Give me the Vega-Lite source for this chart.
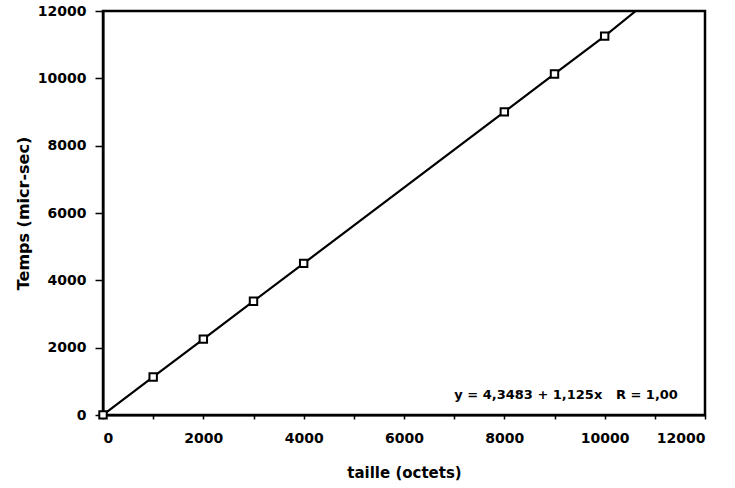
{
  "$schema": "https://vega.github.io/schema/vega-lite/v6.json",
  "width": 602,
  "height": 404,
  "autosize": "none",
  "padding": {"left": 103, "top": 11, "right": 30, "bottom": 73},
  "background": "white",
  "config": {
    "view": {"stroke": "black", "strokeWidth": 2.5},
    "font": "DejaVu Sans",
    "axis": {
      "grid": false,
      "domainColor": "black",
      "domainWidth": 2,
      "tickColor": "black",
      "tickWidth": 1.5,
      "labelColor": "black",
      "titleColor": "black",
      "labelFont": "DejaVu Sans",
      "titleFont": "DejaVu Sans",
      "labelFontWeight": "bold",
      "titleFontWeight": "bold",
      "labelFontSize": 14,
      "titleFontSize": 16
    }
  },
  "datasets": {
    "pts": [
      {"taille": 0, "temps": 4},
      {"taille": 1000, "temps": 1129},
      {"taille": 2000, "temps": 2254},
      {"taille": 3000, "temps": 3379},
      {"taille": 4000, "temps": 4504},
      {"taille": 8000, "temps": 9004},
      {"taille": 9000, "temps": 10129},
      {"taille": 10000, "temps": 11254}
    ],
    "fit": [
      {"taille": 0, "temps": 4},
      {"taille": 1000, "temps": 1129},
      {"taille": 2000, "temps": 2254},
      {"taille": 3000, "temps": 3379},
      {"taille": 4000, "temps": 4504},
      {"taille": 8000, "temps": 9004},
      {"taille": 9000, "temps": 10129},
      {"taille": 10000, "temps": 11254},
      {"taille": 10620, "temps": 12000}
    ],
    "note": [
      {"taille": 11460, "temps": 594, "label": "y = 4,3483 + 1,125x\u00a0\u00a0\u00a0R = 1,00"}
    ]
  },
  "layer": [
    {
      "data": {"name": "fit"},
      "mark": {"type": "line", "color": "black", "strokeWidth": 2.2, "clip": true},
      "encoding": {
        "x": {
          "field": "taille", "type": "quantitative",
          "scale": {"domain": [0, 12000], "nice": false},
          "axis": {"title": "taille (octets)", "titleFontSize": 15, "values": [0,1000,2000,3000,4000,5000,6000,7000,8000,9000,10000,11000,12000],
                   "labelExpr": "datum.value % 2000 == 0 ? datum.label : ''",
                   "format": "d", "tickSize": 4, "labelPadding": 12, "titlePadding": 20}
        },
        "y": {
          "field": "temps", "type": "quantitative",
          "scale": {"domain": [0, 12000], "nice": false},
          "axis": {"title": "Temps (micr-sec)", "values": [0,1000,2000,3000,4000,5000,6000,7000,8000,9000,10000,11000,12000],
                   "labelExpr": "datum.value % 2000 == 0 ? datum.label : ''",
                   "format": "d", "tickSize": 8, "labelPadding": 9, "titlePadding": 6}
        }
      }
    },
    {
      "data": {"name": "pts"},
      "mark": {"type": "point", "shape": "square", "filled": true, "fill": "white", "stroke": "black", "strokeWidth": 2, "size": 55, "opacity": 1},
      "encoding": {
        "x": {"field": "taille", "type": "quantitative"},
        "y": {"field": "temps", "type": "quantitative"}
      }
    },
    {
      "data": {"name": "note"},
      "mark": {"type": "text", "align": "right", "baseline": "middle", "fontSize": 13, "fontWeight": "bold", "font": "DejaVu Sans", "color": "black"},
      "encoding": {
        "x": {"field": "taille", "type": "quantitative"},
        "y": {"field": "temps", "type": "quantitative"},
        "text": {"field": "label"}
      }
    }
  ]
}
